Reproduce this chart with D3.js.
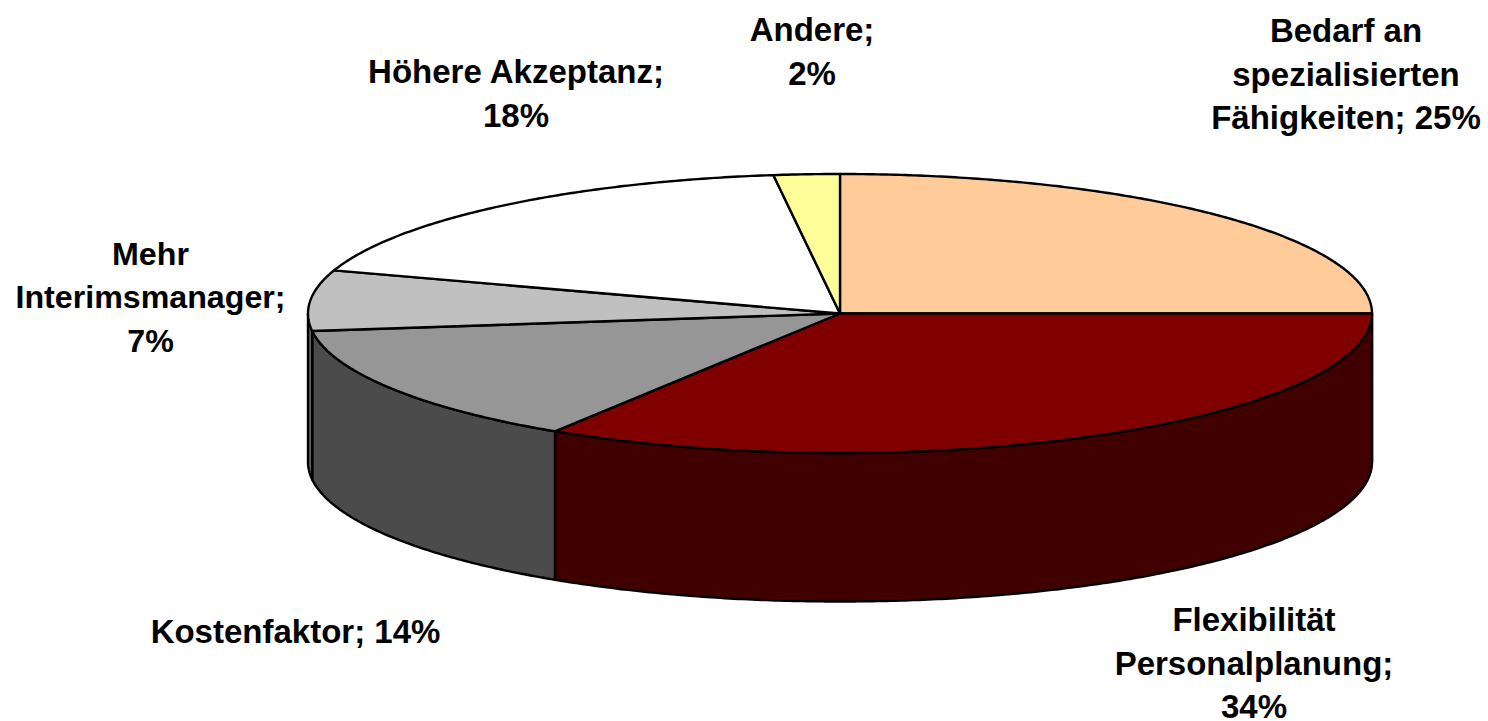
<!DOCTYPE html>
<html><head><meta charset="utf-8">
<script src="https://cdn.jsdelivr.net/npm/d3@7"></script>
<style>html,body{margin:0;padding:0;background:#fff;overflow:hidden}svg{display:block}
text{font-family:"Liberation Sans",Arial,sans-serif;font-weight:700;font-size:33px;fill:#000;text-anchor:middle}</style>
</head><body><svg id="c" width="1488" height="721"></svg>
<script>
const categories = ["Bedarf an spezialisierten Fähigkeiten","Flexibilität Personalplanung","Kostenfaktor","Mehr Interimsmanager","Höhere Akzeptanz","Andere"];
const shares = [25,34,14,7,18,2];
const topColors = ["#FFCC99","#800000","#969696","#C0C0C0","#FFFFFF","#FFFF99"];
const sideColors = ["#806650","#400000","#4B4B4B","#606060","#808080","#80804C"];
const labelLines = [
  ["Bedarf an","spezialisierten","Fähigkeiten; 25%"],
  ["Flexibilität","Personalplanung;","34%"],
  ["Kostenfaktor; 14%"],
  ["Mehr","Interimsmanager;","7%"],
  ["Höhere Akzeptanz;","18%"],
  ["Andere;","2%"]
];
const labelAnchors = [[1346,42],[1254,631],[295.5,643],[150.5,264.5],[516,83],[812,41]];
const labelSizes = [33,33,33,32.2,33,33];

const svg = d3.select("#c");
const x = d3.scaleLinear().domain([-1,1]).range([308,1372]);
const y = d3.scaleLinear().domain([-1,1]).range([174,453]);
const depth = 148.5;
const arcs = d3.pie().sort(null).value(d=>d)(shares);
const px = a => x(Math.sin(a)), py = a => y(-Math.cos(a));
const line = d3.line();
const step = Math.PI/360;
const samples = (a,b) => { const r = d3.range(a,b,step); r.push(b); return r; };

// side wall (visible front half only)
const g = svg.append("g").attr("stroke","#000").attr("stroke-width",2.4).attr("stroke-linejoin","round");
arcs.forEach((d,i)=>{
  const a = Math.max(d.startAngle,Math.PI/2), b = Math.min(d.endAngle,3*Math.PI/2);
  if (a>=b) return;
  const s = samples(a,b);
  const pts = s.map(t=>[px(t),py(t)]).concat(s.slice().reverse().map(t=>[px(t),py(t)+depth]));
  g.append("path").attr("d",line(pts)+"Z").attr("fill",sideColors[i]);
});
// top surface
arcs.forEach((d,i)=>{
  const pts = [[x(0),y(0)]].concat(samples(d.startAngle,d.endAngle).map(t=>[px(t),py(t)]));
  g.append("path").attr("d",line(pts)+"Z").attr("fill",topColors[i]);
});
// labels
const lh = 43.6;
labelLines.forEach((lines,i)=>{
  const t = svg.append("text").attr("x",labelAnchors[i][0]).attr("y",labelAnchors[i][1]).style("font-size",labelSizes[i]+"px");
  lines.forEach((s,j)=>t.append("tspan").attr("x",labelAnchors[i][0]).attr("y",labelAnchors[i][1]+j*lh).text(s));
});
</script></body></html>
